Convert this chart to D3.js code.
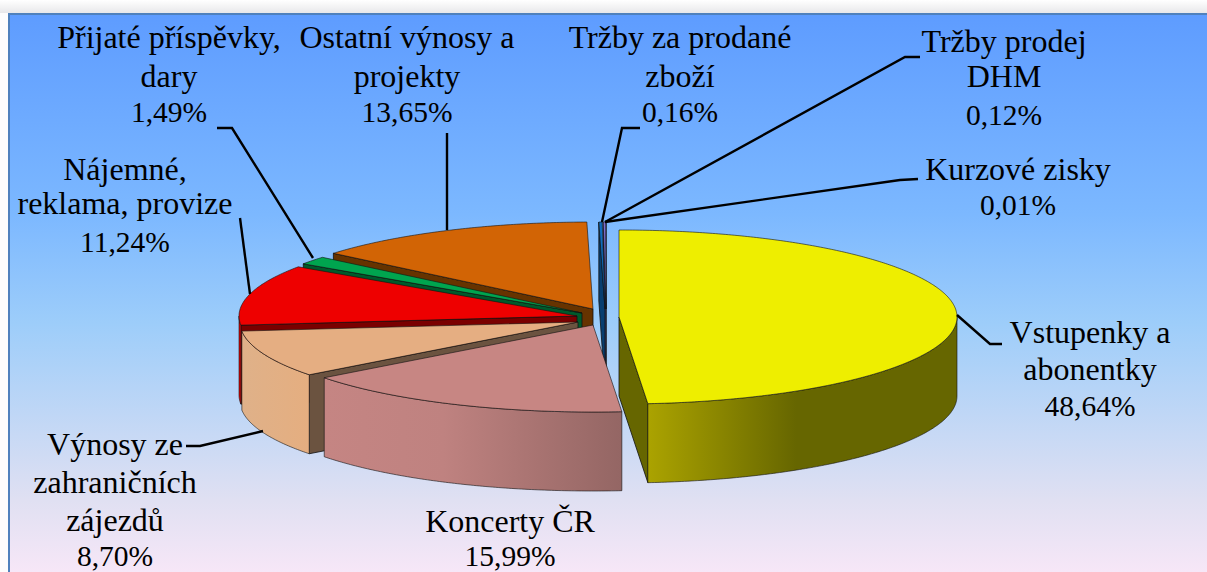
<!DOCTYPE html>
<html>
<head>
<meta charset="utf-8">
<script src="https://cdn.jsdelivr.net/npm/d3@7"></script>
<style>
  html, body { margin: 0; padding: 0; background: #fdfdfd; overflow: hidden; }
  text { font-family: "Liberation Serif", serif; font-size: 32px; fill: #000; text-anchor: middle; }
</style>
</head>
<body>
<div id="chart"></div>
<script>
// chart values, clockwise from 12 o'clock
const categories = ['Vstupenky a abonentky', 'Koncerty ČR', 'Výnosy ze zahraničních zájezdů',
  'Nájemné, reklama, provize', 'Přijaté příspěvky, dary', 'Ostatní výnosy a projekty',
  'Tržby za prodané zboží', 'Tržby prodej DHM', 'Kurzové zisky'];
const shares = [48.64, 15.99, 8.70, 11.24, 1.49, 13.65, 0.16, 0.12, 0.01];
const shareLabels = ['48,64%', '15,99%', '8,70%', '11,24%', '1,49%', '13,65%', '0,16%', '0,12%', '0,01%'];

// slice styles
const topColors = ['#eeee00', '#c78683', '#e5ae82', '#ee0000', '#00a54f', '#d26405', '#0f6cbd', '#7f6fd0', '#4f81bd'];
const cutColors = ['#666600', '#6b5340', '#6b5340', '#7a0000', '#005a2b', '#663300', '#083e70', '#4a3f80', '#2c4a70'];
const wallStops = [
  [['0%', '#aba300'], ['48%', '#666600'], ['100%', '#666600']],
  [['0%', '#c58583'], ['40%', '#bf8280'], ['100%', '#946664']],
  [['0%', '#dfb189'], ['100%', '#e5ae80']],
  [['0%', '#d80000'], ['100%', '#ee0000']],
  [['0%', '#005a2b'], ['100%', '#005a2b']],
  [['0%', '#663300'], ['100%', '#663300']],
  [['0%', '#083e70'], ['100%', '#083e70']],
  [['0%', '#4a3f80'], ['100%', '#4a3f80']],
  [['0%', '#2c4a70'], ['100%', '#2c4a70']]
];
// how far each slice is pulled out of the pie, in px
const explodeX = [21, -5, -20, -21, -16, -5, 7, 8, 8];
const explodeY = [0, 8, 5, -1, -4, -8, -8, -8, -8];

const width = 1207, height = 572;
const pieCx = 598, pieCy = 317, radiusX = 338, radiusY = 87, depth = 79;

// label blocks: lines, centre x and baselines
const labels = [
  { lines: ['Vstupenky a', 'abonentky', shareLabels[0]], x: 1090, y: [343, 380, 416] },
  { lines: ['Koncerty ČR', shareLabels[1]], x: 510, y: [532, 565.5] },
  { lines: ['Výnosy ze', 'zahraničních', 'zájezdů', shareLabels[2]], x: 115, y: [455, 493, 531, 565.5] },
  { lines: ['Nájemné,', 'reklama, provize', shareLabels[3]], x: 125, y: [180, 214, 252] },
  { lines: ['Přijaté příspěvky,', 'dary', shareLabels[4]], x: 169, y: [48, 87, 122] },
  { lines: ['Ostatní výnosy a', 'projekty', shareLabels[5]], x: 407, y: [48, 87, 122] },
  { lines: ['Tržby za prodané', 'zboží', shareLabels[6]], x: 680, y: [48, 87, 122] },
  { lines: ['Tržby prodej', 'DHM', shareLabels[7]], x: 1004, y: [52, 87, 125] },
  { lines: ['Kurzové zisky', shareLabels[8]], x: 1018, y: [180, 215] }
];
const leaders = [
  [[1002, 344], [990, 344], [957, 315]],
  [[186, 446], [200, 446], [263, 431]],
  [[240, 218], [250, 294]],
  [[217, 128], [232, 128], [313, 258]],
  [[447, 133], [447, 230]],
  [[640, 128], [622, 128], [602, 222]],
  [[920, 57], [905, 57], [605, 222]],
  [[918, 179], [900, 180], [605, 222]]
];

const svg = d3.select('#chart').append('svg')
  .attr('width', width)
  .attr('height', height);

const defs = svg.append('defs');

const bg = defs.append('linearGradient').attr('id', 'plotBg').attr('x1', 0).attr('y1', 0).attr('x2', 0).attr('y2', 1);
[['0%', '#5e9cff'], ['35%', '#7cb8ff'], ['54%', '#9dcdfa'], ['85%', '#e0e0f2'], ['100%', '#fbe8f8']].forEach(s => {
  bg.append('stop').attr('offset', s[0]).attr('stop-color', s[1]);
});
const topShade = defs.append('linearGradient').attr('id', 'pageTop').attr('x1', 0).attr('y1', 0).attr('x2', 0).attr('y2', 1);
topShade.append('stop').attr('offset', '0%').attr('stop-color', '#ffffff');
topShade.append('stop').attr('offset', '100%').attr('stop-color', '#e8e8ea');

svg.append('rect').attr('width', width).attr('height', 13).attr('fill', 'url(#pageTop)');
svg.append('rect')
  .attr('x', 9).attr('y', 14)
  .attr('width', width).attr('height', height)
  .attr('fill', 'url(#plotBg)')
  .attr('stroke', '#4f81bd')
  .attr('stroke-width', 2);

wallStops.forEach((stops, i) => {
  const g = defs.append('linearGradient').attr('id', 'wall' + i);
  stops.forEach(s => g.append('stop').attr('offset', s[0]).attr('stop-color', s[1]));
});

// unit circle -> flattened pie
const xScale = d3.scaleLinear().domain([-1, 1]).range([-radiusX, radiusX]);
const yScale = d3.scaleLinear().domain([-1, 1]).range([radiusY, -radiusY]);
const rimX = a => xScale(Math.sin(a));
const rimY = a => yScale(Math.cos(a));

const pie = d3.pie().sort(null).value(d => d).startAngle(0).endAngle(2 * Math.PI);
const arcs = pie(shares);
const line = d3.line();

function sweep(a0, a1) {
  const n = Math.max(2, Math.ceil((a1 - a0) / 0.01));
  return d3.range(n + 1).map(i => a0 + (a1 - a0) * i / n);
}

const chart = svg.append('g').attr('transform', `translate(${pieCx},${pieCy})`);

function cutFace(g, a, color) {
  const x = rimX(a), y = rimY(a);
  g.append('path')
    .attr('d', line([[0, 0], [x, y], [x, y + depth], [0, depth]]) + 'Z')
    .attr('fill', color).attr('stroke', '#111').attr('stroke-width', 0.8);
}

// back to front so that nearer slices cover the others
d3.range(arcs.length - 1, -1, -1).forEach(i => {
  const d = arcs[i];
  const g = chart.append('g')
    .attr('class', 'slice')
    .attr('transform', `translate(${explodeX[i]},${explodeY[i]})`);

  // only cut faces turned to the viewer are drawn
  if (d.endAngle < Math.PI) cutFace(g, d.endAngle, cutColors[i]);
  if (d.startAngle > Math.PI) cutFace(g, d.startAngle, cutColors[i]);

  const w0 = Math.max(d.startAngle, Math.PI / 2), w1 = Math.min(d.endAngle, 1.5 * Math.PI);
  if (w1 > w0) {
    const rim = sweep(w0, w1);
    const upper = rim.map(a => [rimX(a), rimY(a)]);
    const lower = rim.map(a => [rimX(a), rimY(a) + depth]).reverse();
    g.append('path')
      .attr('d', line(upper.concat(lower)) + 'Z')
      .attr('fill', `url(#wall${i})`).attr('stroke', '#111').attr('stroke-width', 0.6);
  }

  const face = [[0, 0]].concat(sweep(d.startAngle, d.endAngle).map(a => [rimX(a), rimY(a)]));
  g.append('path')
    .attr('d', line(face) + 'Z')
    .attr('fill', topColors[i]).attr('stroke', '#111').attr('stroke-width', 0.6);
});

svg.append('g').selectAll('path').data(leaders).join('path')
  .attr('d', d => line(d))
  .attr('fill', 'none')
  .attr('stroke', '#000')
  .attr('stroke-width', 2.4);

const labelG = svg.append('g').selectAll('text').data(labels).join('text');
labelG.each(function (d) {
  d3.select(this).selectAll('tspan').data(d.lines).join('tspan')
    .attr('x', d.x)
    .attr('y', (t, i) => d.y[i])
    .style('font-size', t => shareLabels.includes(t) ? '29.5px' : null)
    .text(t => t);
});
</script>
</body>
</html>
